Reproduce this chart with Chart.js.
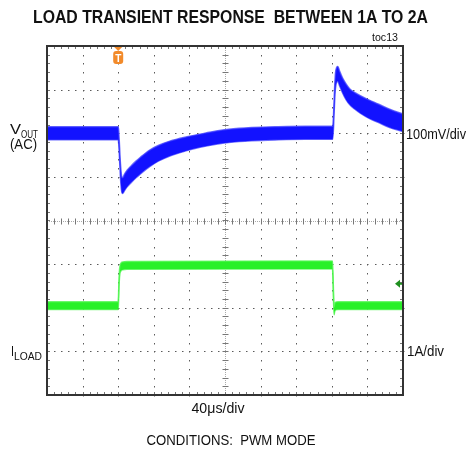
<!DOCTYPE html>
<html>
<head>
<meta charset="utf-8">
<script src="https://cdn.jsdelivr.net/npm/chart.js@4.4.1/dist/chart.umd.min.js"></script>
<style>
  html, body { margin: 0; padding: 0; background: #fff; }
  #wrap { position: relative; width: 471px; height: 449px; }
</style>
</head>
<body>
<div id="wrap"><canvas id="scope"></canvas></div>
<script>
// time in microseconds (40us/div), trigger at t = 0
const timeMin = -80;
const timeMax = 320;
const timePerDiv = 40;

// output voltage deviation, mV (AC coupled)
const voutTime = [-80, 0, 0.6, 1.5, 2.5, 3.5, 4.5, 5.5, 7, 10, 15, 20, 25, 35, 45, 58, 75, 92, 110, 124, 150, 180, 210, 241,
                  242, 243, 244, 245.5, 246.8, 248.5, 252, 256, 260, 266, 272, 282, 292, 305, 320];
const voutMv = [0, 0, -10, -45, -85, -110, -120, -119, -113, -104, -93, -83, -74, -58, -46, -35, -25, -17, -10, -6, -2, 0, 1, 1,
                30, 80, 118, 134, 136, 127, 110, 95, 84, 74, 66, 55, 46, 34, 24];
// half width of the noise band, mV
const voutNoise = [15, 15, 15, 15, 16, 17, 18, 18, 19, 19, 19, 19, 19, 19, 18, 17, 16, 15, 15, 15, 15, 15, 15, 15,
                   15, 16, 17, 17, 17, 17, 17, 18, 18, 19, 20, 21, 21, 21, 20];

// load current, A
const iloadTime = [-80, 0, 0.6, 1.2, 2, 3, 5, 10, 240.8, 241.4, 242, 242.6, 243.2, 244.5, 247, 320];
const iloadAmps = [1.0, 1.0, 1.3, 1.65, 1.82, 1.88, 1.91, 1.92, 1.93, 1.6, 1.15, 0.88, 0.95, 0.99, 1.0, 1.0];
const iloadNoise = 0.09; // A

// scope channel settings
const voutPerDiv = 100;   // mV/div
const voutOffset = 6.0;   // div
const iloadPerDiv = 1;    // A/div
const iloadOffset = 1.05; // div
const triggerLevel = 1.5; // A

const sansNarrow = "'Liberation Sans Narrow', 'Arial Narrow', 'Liberation Sans', Arial, sans-serif";

function toDiv(times, values, perDiv, offset, shift, sign) {
    return times.map((t, i) => {
        const n = Array.isArray(shift) ? shift[i] : shift;
        return { x: t, y: offset + (values[i] + sign * n) / perDiv };
    });
}

// draws text squeezed/stretched to the width measured in the reference
function fitText(ctx, str, x, y, font, width, align) {
    ctx.save();
    ctx.font = font;
    const w = ctx.measureText(str).width;
    ctx.translate(x, y);
    ctx.scale(width / w, 1);
    ctx.textAlign = align || 'left';
    ctx.textBaseline = 'alphabetic';
    ctx.fillStyle = '#111';
    ctx.fillText(str, 0, 0);
    ctx.restore();
}

const scopeFrame = {
    id: 'scopeFrame',
    beforeDatasetsDraw(chart) {
        const { ctx, chartArea: a, scales: { x, y } } = chart;
        const xs = [], ys = [];
        for (let t = timeMin; t <= timeMax + 0.01; t += timePerDiv / 5) xs.push(t);
        for (let d = 0; d <= 8.001; d += 0.2) ys.push(d);
        ctx.save();

        // dotted graticule
        ctx.fillStyle = '#5a5a5a';
        for (let k = 1; k < 10; k++) {
            if (k === 5) continue;
            const px = Math.round(x.getPixelForValue(timeMin + k * timePerDiv));
            ys.forEach(d => ctx.fillRect(px, Math.round(y.getPixelForValue(d)), 1, 1.5));
        }
        for (let m = 1; m < 8; m++) {
            if (m === 4) continue;
            const py = Math.round(y.getPixelForValue(m));
            xs.forEach(t => ctx.fillRect(Math.round(x.getPixelForValue(t)), py, 1.5, 1));
        }

        // centre axes with sub-division ticks
        const cx = Math.round(x.getPixelForValue(timeMin + 5 * timePerDiv)) + 0.5;
        const cy = Math.round(y.getPixelForValue(4)) + 0.5;
        ctx.strokeStyle = '#aaa';
        ctx.lineWidth = 1;
        ctx.setLineDash([1, 1]);
        ctx.beginPath();
        ctx.moveTo(a.left, cy); ctx.lineTo(a.right, cy);
        ctx.moveTo(cx, a.top); ctx.lineTo(cx, a.bottom);
        ctx.stroke();
        ctx.setLineDash([]);
        ctx.strokeStyle = '#777';
        ctx.beginPath();
        xs.forEach(t => {
            const px = Math.round(x.getPixelForValue(t)) + 0.5;
            ctx.moveTo(px, cy - 3); ctx.lineTo(px, cy + 3);
            ctx.moveTo(px, a.top); ctx.lineTo(px, a.top + 3);
            ctx.moveTo(px, a.bottom); ctx.lineTo(px, a.bottom - 3);
        });
        ys.forEach(d => {
            const py = Math.round(y.getPixelForValue(d)) + 0.5;
            ctx.moveTo(cx - 3, py); ctx.lineTo(cx + 3, py);
            ctx.moveTo(a.left, py); ctx.lineTo(a.left + 3, py);
            ctx.moveTo(a.right, py); ctx.lineTo(a.right - 3, py);
        });
        ctx.stroke();
        ctx.restore();
    },
    afterDatasetsDraw(chart) {
        const { ctx, chartArea: a, scales: { x, y } } = chart;
        ctx.save();
        // frame
        ctx.strokeStyle = '#333';
        ctx.lineWidth = 2;
        ctx.strokeRect(a.left, a.top, a.right - a.left, a.bottom - a.top);

        // trigger position marker
        const tx = x.getPixelForValue(0);
        ctx.fillStyle = '#f28a2a';
        ctx.beginPath();
        ctx.moveTo(tx - 4, a.top + 1); ctx.lineTo(tx + 4, a.top + 1); ctx.lineTo(tx, a.top + 5);
        ctx.closePath(); ctx.fill();
        ctx.beginPath();
        ctx.roundRect(tx - 5, a.top + 5, 10, 13, 3);
        ctx.fill();
        ctx.fillStyle = '#fff';
        ctx.font = 'bold 10px ' + sansNarrow;
        ctx.textAlign = 'center';
        ctx.fillText('T', tx, a.top + 15.5);

        // trigger level marker (current channel)
        const ty = y.getPixelForValue(iloadOffset + triggerLevel / iloadPerDiv);
        ctx.fillStyle = '#1f8f1f';
        ctx.beginPath();
        ctx.moveTo(a.right - 8, ty); ctx.lineTo(a.right - 3, ty - 4); ctx.lineTo(a.right - 3, ty + 4);
        ctx.closePath(); ctx.fill();
        ctx.fillRect(a.right - 4, ty - 1, 3, 2);
        ctx.restore();
    },
    afterDraw(chart) {
        const { ctx } = chart;
        fitText(ctx, 'LOAD TRANSIENT RESPONSE  BETWEEN 1A TO 2A', 230.5, 23, 'bold 17.5px ' + sansNarrow, 395, 'center');
        fitText(ctx, 'toc13', 398, 41, '10px ' + sansNarrow, 26, 'right');
        fitText(ctx, 'V', 10, 134, '15px ' + sansNarrow, 11);
        fitText(ctx, 'OUT', 21, 137.5, '10.5px ' + sansNarrow, 17);
        fitText(ctx, '(AC)', 10, 149, '14px ' + sansNarrow, 27);
        fitText(ctx, 'I', 11, 356, '15px ' + sansNarrow, 3);
        fitText(ctx, 'LOAD', 14, 359.5, '10.5px ' + sansNarrow, 28);
        fitText(ctx, '100mV/div', 406, 138.5, '14px ' + sansNarrow, 60);
        fitText(ctx, '1A/div', 407, 356, '14px ' + sansNarrow, 37);
        fitText(ctx, '40\u03bcs/div', 218, 413, '14px ' + sansNarrow, 53, 'center');
        fitText(ctx, 'CONDITIONS:  PWM MODE', 231, 445, '15.5px ' + sansNarrow, 169, 'center');
    }
};

// each trace is drawn as its noise band: upper edge filled down to lower edge
function band(label, times, values, noise, perDiv, offset, fillColor, edgeColor) {
    const common = {
        borderColor: edgeColor,
        borderWidth: 1.5,
        cubicInterpolationMode: 'monotone',
        pointRadius: 0
    };
    return [
        Object.assign({ label: label, data: toDiv(times, values, perDiv, offset, noise, 1), fill: '+1', backgroundColor: fillColor }, common),
        Object.assign({ label: label + ' low', data: toDiv(times, values, perDiv, offset, noise, -1), fill: false }, common)
    ];
}

const ctx = document.getElementById('scope').getContext('2d');
const scopeChart = new Chart(ctx, {
    type: 'line',
    data: {
        datasets: [
            ...band('VOUT', voutTime, voutMv, voutNoise, voutPerDiv, voutOffset, 'rgb(18, 18, 255)', 'rgba(60, 60, 255, 0.75)'),
            ...band('ILOAD', iloadTime, iloadAmps, iloadNoise, iloadPerDiv, iloadOffset, 'rgb(40, 240, 40)', 'rgba(80, 245, 80, 0.75)')
        ]
    },
    options: {
        responsive: true,
        maintainAspectRatio: false,
        animation: false,
        layout: { padding: { left: 47, top: 46, right: 68, bottom: 54 } },
        scales: {
            x: { type: 'linear', min: timeMin, max: timeMax, display: false },
            y: { type: 'linear', min: 0, max: 8, display: false }
        },
        plugins: {
            legend: { display: false },
            tooltip: { enabled: false }
        }
    },
    plugins: [scopeFrame]
});
</script>
</body>
</html>
